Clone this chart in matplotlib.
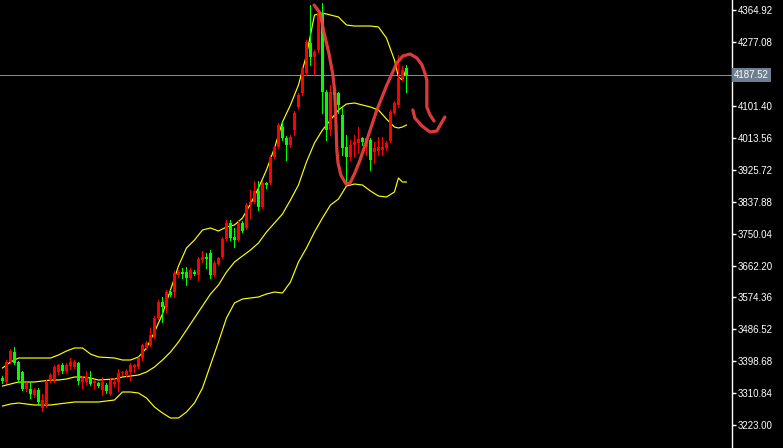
import numpy as np
import matplotlib
matplotlib.use("Agg")
import matplotlib.pyplot as plt
from matplotlib.transforms import blended_transform_factory

# ---------------- data ----------------
opens = [3352.4, 3341.4, 3396.5, 3424.0, 3396.5, 3369.0, 3322.1, 3322.1, 3305.6, 3319.4,
         3269.8, 3278.1, 3346.9, 3346.9, 3369.0, 3388.2, 3371.7, 3385.5, 3382.7, 3393.7,
         3341.4, 3341.4, 3352.4, 3338.7, 3338.7, 3319.4, 3333.2, 3308.4, 3335.9, 3341.4,
         3366.2, 3360.7, 3369.0, 3382.7, 3382.7, 3407.5, 3437.8, 3443.3, 3465.3, 3517.7,
         3561.7, 3548.0, 3589.2, 3589.2, 3636.1, 3644.3, 3644.3, 3627.8, 3644.3, 3636.1,
         3677.4, 3685.6, 3696.6, 3636.1, 3666.3, 3685.6, 3735.2, 3779.2, 3740.7, 3732.4,
         3779.2, 3765.5, 3828.8, 3837.1, 3867.4, 3823.3, 3889.4, 3889.4, 3961.0, 3988.5,
         4043.6, 4013.3, 3994.0, 4035.3, 4098.7, 4137.2, 4192.3, 4274.9, 4236.3, 4255.6,
         4357.5, 4140.0, 4035.3, 4140.0, 4137.2, 4076.6, 3988.5, 3961.0, 3994.0, 3999.5,
         4013.3, 3988.5, 4007.8, 3974.8, 3977.5, 3980.3, 3985.8, 4005.0, 4082.1, 4104.2,
         4178.5, 4206.1]
highs = [3357.9, 3402.0, 3432.3, 3437.8, 3399.3, 3371.7, 3341.4, 3341.4, 3324.9, 3324.9,
         3308.4, 3346.9, 3366.2, 3388.2, 3391.0, 3393.7, 3393.7, 3407.5, 3402.0, 3396.5,
         3357.9, 3371.7, 3371.7, 3346.9, 3341.4, 3355.2, 3338.7, 3352.4, 3352.4, 3377.2,
         3371.7, 3377.2, 3393.7, 3391.0, 3410.3, 3446.1, 3454.3, 3490.1, 3523.2, 3567.2,
         3575.5, 3594.8, 3594.8, 3647.1, 3649.8, 3655.3, 3658.1, 3655.3, 3649.8, 3685.6,
         3702.1, 3696.6, 3704.9, 3674.6, 3685.6, 3740.7, 3787.5, 3787.5, 3765.5, 3784.7,
         3784.7, 3834.3, 3870.1, 3894.9, 3894.9, 3894.9, 3892.1, 3966.5, 3994.0, 4054.6,
         4057.4, 4018.8, 4021.5, 4087.7, 4137.2, 4211.6, 4283.2, 4379.5, 4255.6, 4365.8,
         4385.0, 4145.5, 4159.2, 4151.0, 4140.0, 4095.9, 4021.5, 4007.8, 4021.5, 4043.6,
         4016.0, 4016.0, 4013.3, 4002.3, 4016.0, 4016.0, 4005.0, 4090.4, 4115.2, 4241.8,
         4211.6, 4214.3]
lows = [3338.7, 3338.7, 3393.7, 3391.0, 3341.4, 3319.4, 3316.6, 3297.4, 3300.1, 3280.9,
        3261.6, 3272.6, 3341.4, 3341.4, 3363.5, 3366.2, 3369.0, 3377.2, 3380.0, 3335.9,
        3324.9, 3335.9, 3333.2, 3324.9, 3327.6, 3305.6, 3311.1, 3305.6, 3330.4, 3316.6,
        3360.7, 3357.9, 3346.9, 3369.0, 3380.0, 3402.0, 3432.3, 3440.6, 3462.6, 3514.9,
        3506.6, 3534.2, 3578.2, 3575.5, 3630.6, 3627.8, 3608.5, 3625.1, 3636.1, 3622.3,
        3671.8, 3655.3, 3627.8, 3633.3, 3663.6, 3682.9, 3732.4, 3732.4, 3713.2, 3729.7,
        3754.4, 3762.7, 3793.0, 3834.3, 3815.0, 3820.6, 3875.6, 3886.6, 3958.2, 3985.8,
        4007.8, 3952.7, 3988.5, 4021.5, 4095.9, 4131.7, 4187.5, 4214.3, 4187.5, 4250.1,
        4082.1, 4007.8, 4021.5, 4104.2, 4082.1, 3966.5, 3889.4, 3952.7, 3961.0, 3972.0,
        3994.0, 3966.5, 3925.2, 3944.5, 3966.5, 3966.5, 3980.3, 4002.3, 4079.4, 4098.7,
        4173.0, 4140.0]
closes = [3344.2, 3396.5, 3426.8, 3393.7, 3346.9, 3322.1, 3338.7, 3308.4, 3319.4, 3286.4,
          3291.9, 3341.4, 3360.7, 3382.7, 3388.2, 3371.7, 3388.2, 3396.5, 3396.5, 3344.2,
          3352.4, 3355.2, 3335.9, 3344.2, 3330.4, 3341.4, 3316.6, 3346.9, 3341.4, 3366.2,
          3369.0, 3371.7, 3388.2, 3388.2, 3407.5, 3443.3, 3448.8, 3470.8, 3517.7, 3561.7,
          3548.0, 3589.2, 3581.0, 3641.6, 3644.3, 3640.2, 3627.8, 3649.8, 3638.8, 3680.1,
          3685.6, 3681.5, 3636.1, 3669.1, 3682.9, 3735.2, 3779.2, 3737.9, 3732.4, 3779.2,
          3757.2, 3828.8, 3837.1, 3867.4, 3823.3, 3889.4, 3883.9, 3961.0, 3988.5, 4049.1,
          4013.3, 3994.0, 4016.0, 4082.1, 4131.7, 4206.1, 4277.6, 4236.3, 4250.1, 4357.5,
          4140.0, 4035.3, 4140.0, 4131.7, 4104.2, 3985.8, 3961.0, 3994.0, 4002.3, 4010.5,
          4002.3, 4013.3, 3952.7, 3985.8, 3988.5, 3988.5, 3999.5, 4084.9, 4109.7, 4178.5,
          4200.5, 4187.52]

# Bollinger bands (at candle indices)
band_idx = [0, 2, 4, 8, 12, 14, 16, 18, 20, 22, 24, 28, 30, 32, 34, 36, 38, 40, 42, 44,
            46, 48, 50, 52, 54, 56, 58, 60, 62, 64, 66, 68, 70, 72, 74, 76, 78, 80, 82, 84,
            86, 88, 90, 92, 94, 96, 98, 99, 100, 101]
band_upper = [3380.0, 3396.5, 3407.5, 3407.5, 3407.5, 3415.8, 3426.8, 3435.1, 3435.1, 3418.5,
              3410.3, 3407.5, 3402.0, 3402.0, 3410.3, 3435.1, 3479.1, 3528.7, 3594.8, 3660.8,
              3710.4, 3732.4, 3760.0, 3765.5, 3757.2, 3768.2, 3773.7, 3793.0, 3831.6, 3875.6,
              3925.2, 3985.8, 4057.4, 4104.2, 4159.2, 4241.8, 4352.0, 4357.5, 4352.0, 4346.5,
              4324.5, 4321.7, 4321.7, 4321.7, 4319.0, 4288.7, 4228.1, 4181.3, 4173.0, 4206.1]
band_middle = [3330.4, 3335.9, 3341.4, 3341.4, 3346.9, 3346.9, 3349.7, 3355.2, 3355.2, 3352.4,
               3346.9, 3349.7, 3355.2, 3357.9, 3360.7, 3369.0, 3382.7, 3402.0, 3424.0, 3451.6,
               3484.6, 3517.7, 3550.7, 3583.7, 3608.5, 3644.3, 3671.8, 3688.4, 3704.9, 3724.2,
               3754.4, 3779.2, 3804.0, 3842.6, 3883.9, 3947.2, 3999.5, 4035.3, 4062.9, 4090.4,
               4106.9, 4109.7, 4104.2, 4098.7, 4090.4, 4065.6, 4043.6, 4040.8, 4043.6, 4049.1]
band_lower = [3275.3, 3280.9, 3283.6, 3278.1, 3278.1, 3280.9, 3283.6, 3286.4, 3286.4, 3286.4,
              3286.4, 3291.9, 3313.9, 3313.9, 3311.1, 3297.4, 3272.6, 3256.1, 3242.3, 3242.3,
              3258.8, 3283.6, 3324.9, 3388.2, 3451.6, 3517.7, 3559.0, 3570.0, 3572.7, 3575.5,
              3583.7, 3589.2, 3586.5, 3616.8, 3671.8, 3710.4, 3754.4, 3793.0, 3828.8, 3845.3,
              3881.1, 3886.6, 3883.9, 3867.4, 3853.6, 3850.9, 3864.6, 3903.2, 3892.1, 3892.1]

# hand-drawn red annotation strokes (candle index, price)
stroke1_x = [77.9, 79.4, 80.4, 81.6, 82.6, 83.1, 83.4, 83.6, 83.9, 84.6, 85.9, 86.9, 88.1,
             89.4, 91.1, 93.6, 96.1, 98.6, 100.1, 101.9, 103.6, 104.9, 105.6, 106.1, 106.1,
             106.9, 107.9]
stroke1_y = [4379.5, 4357.5, 4302.4, 4247.4, 4187.5, 4137.2, 4043.6, 3980.3, 3944.5, 3911.4,
             3886.6, 3889.4, 3916.9, 3952.7, 4007.8, 4090.4, 4159.2, 4219.8, 4239.1, 4244.6,
             4233.6, 4214.3, 4192.3, 4173.0, 4098.7, 4076.6, 4060.1]
stroke2_x = [102.6, 103.1, 104.9, 106.9, 108.6, 110.6]
stroke2_y = [4090.4, 4068.4, 4046.3, 4029.8, 4032.6, 4071.1]

tick_values = [4364.92, 4277.08, 4101.40, 4013.56, 3925.72, 3837.88, 3750.04, 3662.20,
               3574.36, 3486.52, 3398.68, 3310.84, 3223.00]
current_price = 4187.52

# ---------------- plot ----------------
plt.rcParams["font.family"] = ["Liberation Sans", "DejaVu Sans"]
W, H = 783, 448
PX = 0.72  # one pixel in points at 100 dpi
fig = plt.figure(figsize=(W / 100, H / 100), dpi=100, facecolor="black")
ax = fig.add_axes([0, 0, 732 / W, 1])
ax.set_facecolor("black")

x = np.arange(len(opens))
o = np.array(opens); c = np.array(closes); h = np.array(highs); l = np.array(lows)
up = c >= o
col = np.where(up, "#ff0000", "#00ff00")

ax.vlines(x, l, h, colors=col, linewidth=PX, zorder=2, antialiased=False)
ax.bar(x, np.abs(c - o) + 0.8, bottom=np.minimum(o, c) - 0.4, width=0.75,
       color=col, linewidth=0, zorder=3, antialiased=False)

for band in (band_upper, band_middle, band_lower):
    ax.plot(band_idx, band, color="#ffff00", lw=0.85, zorder=1)

ax.axhline(current_price, color="#8a8a8a", lw=PX, zorder=0, antialiased=False)

ax.plot(stroke1_x, stroke1_y, color="#f04040", lw=2.3, alpha=0.92, zorder=5,
        solid_capstyle="round", solid_joinstyle="round")
ax.plot(stroke2_x, stroke2_y, color="#f04040", lw=2.3, alpha=0.92, zorder=5,
        solid_capstyle="round", solid_joinstyle="round")

ax.set_xlim(-0.625, 182.4)
ax.set_ylim(3159.7, 4393.3)

for s in ["top", "bottom", "left"]:
    ax.spines[s].set_visible(False)
ax.spines["right"].set_color("white")
ax.spines["right"].set_linewidth(1.0)
ax.xaxis.set_visible(False)
ax.yaxis.tick_right()
ax.set_yticks(tick_values)
ax.set_yticklabels([f"{v:.2f}" for v in tick_values])
ax.tick_params(axis="y", colors="white", length=3, width=1, pad=1,
               labelsize=7, labelcolor="white")

trans = blended_transform_factory(ax.transAxes, ax.transData)
ax.text(1.003, current_price, f"{current_price:.2f}", transform=trans,
        color="white", fontsize=7, va="center", ha="left", clip_on=False,
        bbox=dict(boxstyle="square,pad=0.2", facecolor="#6f7f8f", edgecolor="none"))

fig.savefig("out.png", dpi=100, facecolor="black")
